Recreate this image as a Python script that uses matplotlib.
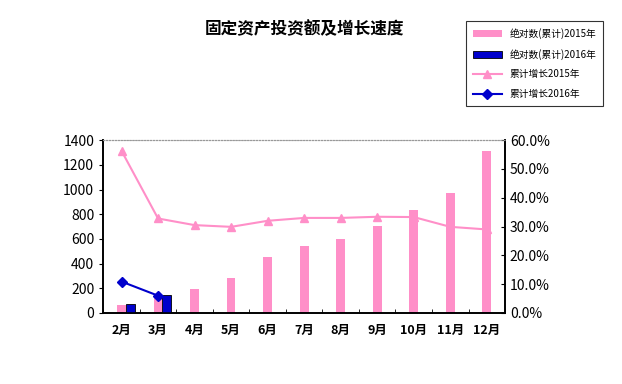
import matplotlib.pyplot as plt
import matplotlib.ticker as mtick
import numpy as np

plt.rcParams['font.family'] = ['Noto Sans CJK SC', 'DejaVu Sans']

months = ['2月', '3月', '4月', '5月', '6月', '7月', '8月', '9月', '10月', '11月', '12月']
abs_2015 = [65, 130, 192, 281, 453, 545, 600, 705, 834, 974, 1312]
abs_2016 = [73, 146]
growth_2015 = [56.3, 32.8, 30.5, 29.9, 32.0, 33.0, 33.0, 33.4, 33.3, 29.9, 29.0]
growth_2016 = [10.9, 6.0]

pink = '#FF8FC8'
blue = '#0000CC'

fig = plt.figure(figsize=(6.22, 3.84), dpi=100)
ax = fig.add_axes([0.166, 0.185, 0.646, 0.45])
ax2 = ax.twinx()

x = np.arange(len(months))
w = 0.24
ax.bar(x, abs_2015, w, color=pink, zorder=2, label='绝对数(累计)2015年')
ax.bar(x[:len(abs_2016)] + w, abs_2016, w, color=blue, edgecolor='black', linewidth=0.6,
       zorder=3, label='绝对数(累计)2016年')

ax2.plot(x, growth_2015, color=pink, marker='^', markersize=6, linewidth=1.5,
         label='累计增长2015年')
ax2.plot(x[:len(growth_2016)], growth_2016, color=blue, marker='D', markersize=5,
         linewidth=1.5, label='累计增长2016年')

ax.set_xlim(-0.5, len(months) - 0.5)
ax.set_ylim(0, 1400)
ax.set_yticks(range(0, 1401, 200))
ax2.set_ylim(0, 60)
ax2.set_yticks(range(0, 61, 10))
ax2.yaxis.set_major_formatter(mtick.FuncFormatter(lambda v, p: f'{v:.1f}%'))

ax.set_xticks(x)
ax.set_xticklabels(months, fontsize=9, fontweight='bold')
ax.set_xticks(np.arange(-0.5, len(months)), minor=True)
ax.tick_params(axis='x', which='major', length=0, pad=8)
ax.tick_params(axis='x', which='minor', length=3, direction='in')
ax.tick_params(axis='y', length=3, labelsize=10)
ax2.tick_params(axis='y', length=3, direction='in', labelsize=10)

for a in (ax, ax2):
    a.spines['top'].set_linestyle(':')
    a.spines['top'].set_color('#999999')
    a.spines['left'].set_linewidth(1.2)
    a.spines['right'].set_linewidth(1.2)
    a.spines['bottom'].set_linewidth(1.2)

fig.text(0.49, 0.925, '固定资产投资额及增长速度', ha='center', va='center',
         fontsize=12, fontweight='bold')

h1, l1 = ax.get_legend_handles_labels()
h2, l2 = ax2.get_legend_handles_labels()
leg = fig.legend(h1 + h2, l1 + l2, loc='upper left', bbox_to_anchor=(0.741, 0.957),
                 fontsize=7, frameon=True, fancybox=False, edgecolor='black',
                 handlelength=3, labelspacing=1.0, borderpad=0.7)
leg.get_frame().set_linewidth(0.8)

fig.savefig('out.png', dpi=100)
